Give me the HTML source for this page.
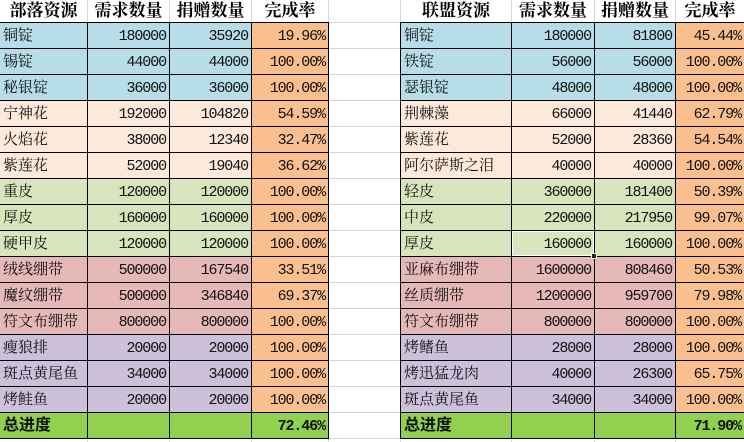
<!DOCTYPE html>
<html><head><meta charset="utf-8">
<style>
html,body{margin:0;padding:0;background:#fff;}
body{width:744px;height:442px;position:relative;overflow:hidden;}
.r{position:absolute;left:0;width:744px;height:27px;}
.c{position:absolute;top:0;box-sizing:border-box;border:1px solid #000;height:27px;overflow:hidden;white-space:nowrap;color:#111;}
.a{text-align:left;padding-left:3px;font-family:"Liberation Serif","Noto Serif CJK SC",serif;font-size:15px;line-height:26px;}
.n{text-align:right;padding-right:3px;font-family:"Liberation Mono","DejaVu Sans Mono",monospace;font-size:15px;letter-spacing:-1.1px;line-height:28px;}
.b{font-weight:bold;}
.t{font-family:"Liberation Sans","Noto Sans CJK SC",sans-serif;font-size:16px;font-weight:bold;}
.bl{background:#B7DDE8;}
.pe{background:#FDE9D9;}
.gr{background:#D8E4BC;}
.pk{background:#E6B8B7;}
.lv{background:#CCC0DA;}
.tt{background:#92D050;}
.or{background:#FABF8F;}
.LA{left:-1px;width:89px;}
.LB{left:87px;width:83px;}
.LC{left:169px;width:83px;}
.LD{left:251px;width:78px;}
.RA{left:400px;width:112px;}
.RB{left:511px;width:84px;}
.RC{left:594px;width:82px;}
.RD{left:675px;width:70px;}
.h{position:absolute;top:0;height:22px;line-height:22px;text-align:center;font-family:"Liberation Serif","Noto Serif CJK SC",serif;font-weight:bold;font-size:17px;color:#000;}
.gv{position:absolute;width:1px;background:#d6d6d6;}
.gh{position:absolute;height:1px;background:#d6d6d6;left:329px;width:71px;}
</style></head><body>

<div class="gv" style="left:87px;top:0;height:22px"></div>
<div class="gv" style="left:169px;top:0;height:22px"></div>
<div class="gv" style="left:251px;top:0;height:22px"></div>
<div class="gv" style="left:328px;top:0;height:22px"></div>
<div class="gv" style="left:400px;top:0;height:22px"></div>
<div class="gv" style="left:511px;top:0;height:22px"></div>
<div class="gv" style="left:594px;top:0;height:22px"></div>
<div class="gv" style="left:675px;top:0;height:22px"></div>
<div class="gv" style="left:87px;top:438px;height:4px"></div>
<div class="gv" style="left:169px;top:438px;height:4px"></div>
<div class="gv" style="left:251px;top:438px;height:4px"></div>
<div class="gv" style="left:328px;top:438px;height:4px"></div>
<div class="gv" style="left:400px;top:438px;height:4px"></div>
<div class="gv" style="left:511px;top:438px;height:4px"></div>
<div class="gv" style="left:594px;top:438px;height:4px"></div>
<div class="gv" style="left:675px;top:438px;height:4px"></div>
<div class="gh" style="top:22px"></div><div class="gh" style="top:48px"></div><div class="gh" style="top:74px"></div>
<div class="gh" style="top:100px"></div><div class="gh" style="top:126px"></div><div class="gh" style="top:152px"></div>
<div class="gh" style="top:178px"></div><div class="gh" style="top:204px"></div><div class="gh" style="top:230px"></div>
<div class="gh" style="top:256px"></div><div class="gh" style="top:282px"></div><div class="gh" style="top:308px"></div>
<div class="gh" style="top:334px"></div><div class="gh" style="top:360px"></div><div class="gh" style="top:386px"></div>
<div class="gh" style="top:412px"></div><div class="gh" style="top:438px"></div>

<div class="h" style="left:0;width:87px">部落资源</div>
<div class="h" style="left:88px;width:81px">需求数量</div>
<div class="h" style="left:170px;width:81px">捐赠数量</div>
<div class="h" style="left:252px;width:76px">完成率</div>
<div class="h" style="left:401px;width:110px">联盟资源</div>
<div class="h" style="left:512px;width:82px">需求数量</div>
<div class="h" style="left:595px;width:80px">捐赠数量</div>
<div class="h" style="left:676px;width:68px">完成率</div>

<div class="r" style="top:22px">
<div class="c a bl LA">铜锭</div><div class="c n bl LB">180000</div><div class="c n bl LC">35920</div><div class="c n or LD">19.96%</div>
<div class="c a bl RA">铜锭</div><div class="c n bl RB">180000</div><div class="c n bl RC">81800</div><div class="c n or RD">45.44%</div>
</div>
<div class="r" style="top:48px">
<div class="c a bl LA">锡锭</div><div class="c n bl LB">44000</div><div class="c n bl LC">44000</div><div class="c n or LD">100.00%</div>
<div class="c a bl RA">铁锭</div><div class="c n bl RB">56000</div><div class="c n bl RC">56000</div><div class="c n or RD">100.00%</div>
</div>
<div class="r" style="top:74px">
<div class="c a bl LA">秘银锭</div><div class="c n bl LB">36000</div><div class="c n bl LC">36000</div><div class="c n or LD">100.00%</div>
<div class="c a bl RA">瑟银锭</div><div class="c n bl RB">48000</div><div class="c n bl RC">48000</div><div class="c n or RD">100.00%</div>
</div>
<div class="r" style="top:100px">
<div class="c a pe LA">宁神花</div><div class="c n pe LB">192000</div><div class="c n pe LC">104820</div><div class="c n or LD">54.59%</div>
<div class="c a pe RA">荆棘藻</div><div class="c n pe RB">66000</div><div class="c n pe RC">41440</div><div class="c n or RD">62.79%</div>
</div>
<div class="r" style="top:126px">
<div class="c a pe LA">火焰花</div><div class="c n pe LB">38000</div><div class="c n pe LC">12340</div><div class="c n or LD">32.47%</div>
<div class="c a pe RA">紫莲花</div><div class="c n pe RB">52000</div><div class="c n pe RC">28360</div><div class="c n or RD">54.54%</div>
</div>
<div class="r" style="top:152px">
<div class="c a pe LA">紫莲花</div><div class="c n pe LB">52000</div><div class="c n pe LC">19040</div><div class="c n or LD">36.62%</div>
<div class="c a pe RA">阿尔萨斯之泪</div><div class="c n pe RB">40000</div><div class="c n pe RC">40000</div><div class="c n or RD">100.00%</div>
</div>
<div class="r" style="top:178px">
<div class="c a gr LA">重皮</div><div class="c n gr LB">120000</div><div class="c n gr LC">120000</div><div class="c n or LD">100.00%</div>
<div class="c a gr RA">轻皮</div><div class="c n gr RB">360000</div><div class="c n gr RC">181400</div><div class="c n or RD">50.39%</div>
</div>
<div class="r" style="top:204px">
<div class="c a gr LA">厚皮</div><div class="c n gr LB">160000</div><div class="c n gr LC">160000</div><div class="c n or LD">100.00%</div>
<div class="c a gr RA">中皮</div><div class="c n gr RB">220000</div><div class="c n gr RC">217950</div><div class="c n or RD">99.07%</div>
</div>
<div class="r" style="top:230px">
<div class="c a gr LA">硬甲皮</div><div class="c n gr LB">120000</div><div class="c n gr LC">120000</div><div class="c n or LD">100.00%</div>
<div class="c a gr RA">厚皮</div><div class="c n gr RB" style="box-shadow:inset 0 0 0 1px #fff">160000</div><div class="c n gr RC">160000</div><div class="c n or RD">100.00%</div>
</div>
<div class="r" style="top:256px">
<div class="c a pk LA">绒线绷带</div><div class="c n pk LB">500000</div><div class="c n pk LC">167540</div><div class="c n or LD">33.51%</div>
<div class="c a pk RA">亚麻布绷带</div><div class="c n pk RB">1600000</div><div class="c n pk RC">808460</div><div class="c n or RD">50.53%</div>
</div>
<div class="r" style="top:282px">
<div class="c a pk LA">魔纹绷带</div><div class="c n pk LB">500000</div><div class="c n pk LC">346840</div><div class="c n or LD">69.37%</div>
<div class="c a pk RA">丝质绷带</div><div class="c n pk RB">1200000</div><div class="c n pk RC">959700</div><div class="c n or RD">79.98%</div>
</div>
<div class="r" style="top:308px">
<div class="c a pk LA">符文布绷带</div><div class="c n pk LB">800000</div><div class="c n pk LC">800000</div><div class="c n or LD">100.00%</div>
<div class="c a pk RA">符文布绷带</div><div class="c n pk RB">800000</div><div class="c n pk RC">800000</div><div class="c n or RD">100.00%</div>
</div>
<div class="r" style="top:334px">
<div class="c a lv LA">瘦狼排</div><div class="c n lv LB">20000</div><div class="c n lv LC">20000</div><div class="c n or LD">100.00%</div>
<div class="c a lv RA">烤鳍鱼</div><div class="c n lv RB">28000</div><div class="c n lv RC">28000</div><div class="c n or RD">100.00%</div>
</div>
<div class="r" style="top:360px">
<div class="c a lv LA">斑点黄尾鱼</div><div class="c n lv LB">34000</div><div class="c n lv LC">34000</div><div class="c n or LD">100.00%</div>
<div class="c a lv RA">烤迅猛龙肉</div><div class="c n lv RB">40000</div><div class="c n lv RC">26300</div><div class="c n or RD">65.75%</div>
</div>
<div class="r" style="top:386px">
<div class="c a lv LA">烤鲑鱼</div><div class="c n lv LB">20000</div><div class="c n lv LC">20000</div><div class="c n or LD">100.00%</div>
<div class="c a lv RA">斑点黄尾鱼</div><div class="c n lv RB">34000</div><div class="c n lv RC">34000</div><div class="c n or RD">100.00%</div>
</div>
<div class="r" style="top:412px">
<div class="c a t tt LA">总进度</div><div class="c n tt LB"></div><div class="c n tt LC"></div><div class="c n b tt LD">72.46%</div>
<div class="c a t tt RA">总进度</div><div class="c n tt RB"></div><div class="c n tt RC"></div><div class="c n b tt RD">71.90%</div>
</div>

<div style="position:absolute;left:591px;top:253px;width:4px;height:4px;background:#222;border:1px solid #fff;"></div>

</body></html>
